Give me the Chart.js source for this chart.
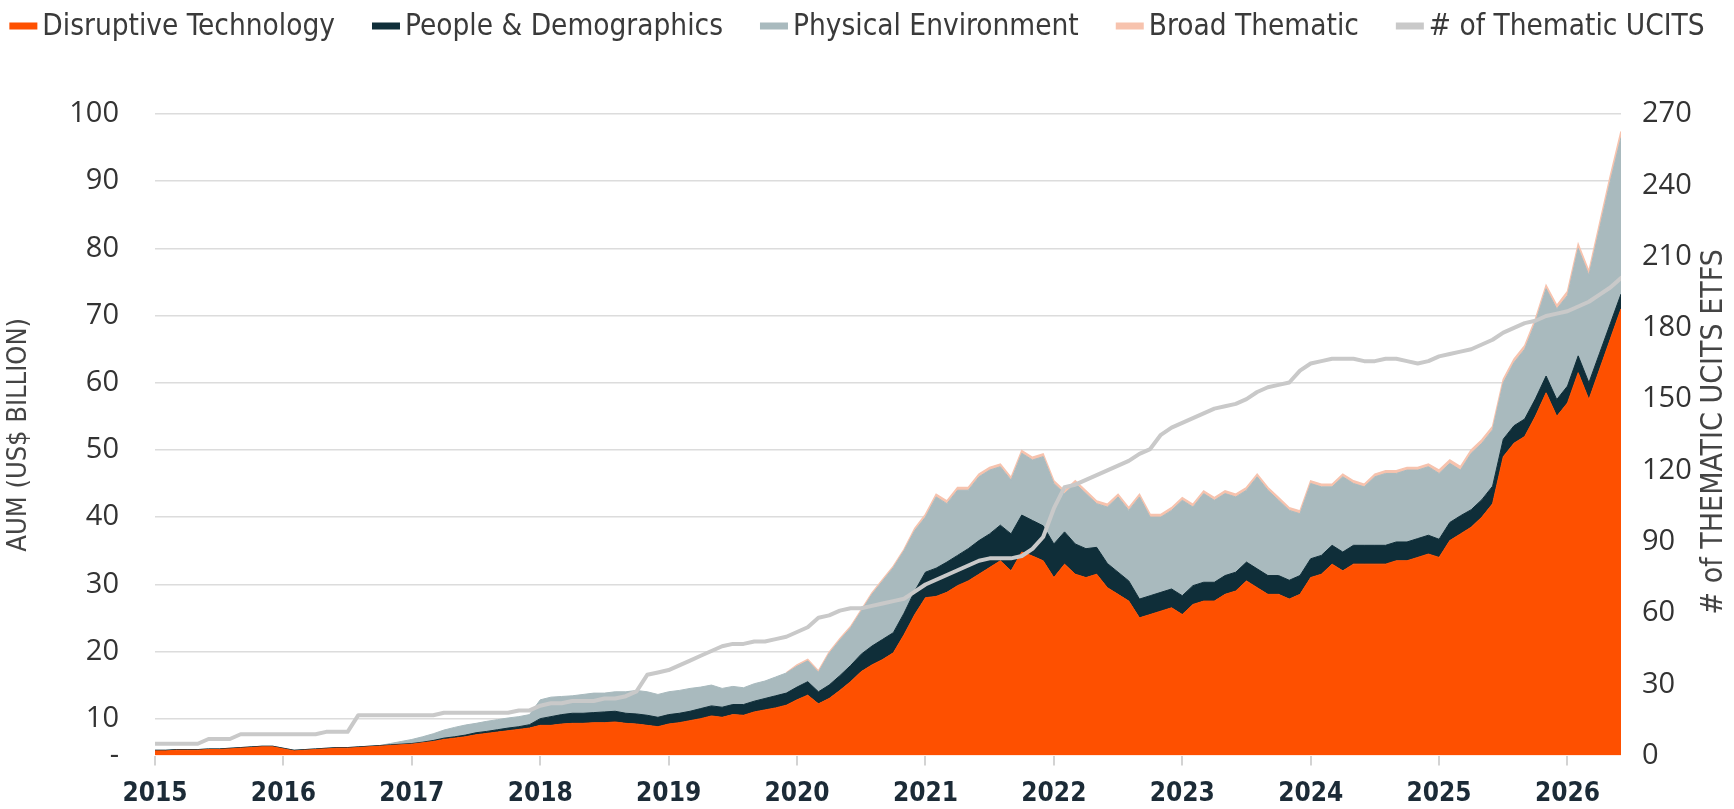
<!DOCTYPE html>
<html>
<head>
<meta charset="utf-8">
<script src="https://cdn.jsdelivr.net/npm/chart.js@4.4.1/dist/chart.umd.min.js"></script>
<style>
html,body{margin:0;padding:0;background:#ffffff;}
#wrap{width:1734px;height:809px;position:relative;}
canvas{display:block;}
</style>
</head>
<body>
<div id="wrap"><canvas id="c" width="1734" height="809"></canvas></div>
<script>
// ---------------- DATA ----------------
// Categories: monthly, Jan 2015 .. Jun 2026
const monthLabels = [];
for (let y = 2015; y <= 2026; y++) {
  for (let m = 1; m <= 12; m++) {
    if (y === 2026 && m > 6) break;
    monthLabels.push(y + '-' + String(m).padStart(2, '0'));
  }
}

// AUM, US$ billion (stacked)
const disruptiveTech = [
  5.2, 5.2, 5.3, 5.3, 5.3, 5.4, 5.4, 5.5, 5.6, 5.7, 5.8, 5.8,
  5.5, 5.2, 5.3, 5.4, 5.5, 5.6, 5.6, 5.7, 5.8, 5.9, 6.0, 6.1,
  6.2, 6.4, 6.6, 6.9, 7.1, 7.3, 7.6, 7.8, 8.0, 8.2, 8.4, 8.6,
  9.0, 9.0, 9.2, 9.3, 9.3, 9.4, 9.4, 9.5, 9.3, 9.2, 9.0, 8.8,
  9.2, 9.4, 9.7, 10.0, 10.4, 10.2, 10.6, 10.5, 11.0, 11.3, 11.6, 12.0,
  12.8, 13.5, 12.2, 13.0, 14.2, 15.5, 17.0, 18.0, 18.8, 19.8, 22.5, 25.5,
  28.0, 28.2, 28.8, 29.8, 30.5, 31.5, 32.5, 33.5, 32.0, 34.8, 34.2, 33.5,
  31.0, 33.0, 31.5, 31.0, 31.5, 29.5, 28.5, 27.5, 25.0, 25.5, 26.0, 26.5,
  25.5, 27.0, 27.5, 27.5, 28.5, 29.0, 30.5, 29.5, 28.5, 28.5, 27.8, 28.5,
  31.0, 31.5, 33.0, 32.0, 33.0, 33.0, 33.0, 33.0, 33.5, 33.5, 34.0, 34.5,
  34.0, 36.5, 37.5, 38.5, 40.0, 42.0, 49.0, 51.0, 52.0, 55.0, 58.5, 55.0,
  57.0, 61.5, 57.5, 62.0, 66.5, 71.0
];
const peopleDemographics = [
  0.1, 0.1, 0.1, 0.1, 0.1, 0.1, 0.1, 0.1, 0.1, 0.1, 0.1, 0.1,
  0.1, 0.1, 0.1, 0.1, 0.1, 0.1, 0.1, 0.1, 0.1, 0.1, 0.1, 0.1,
  0.1, 0.1, 0.15, 0.2, 0.2, 0.25, 0.3, 0.3, 0.35, 0.4, 0.4, 0.5,
  1.0, 1.3, 1.4, 1.5, 1.5, 1.5, 1.6, 1.6, 1.5, 1.5, 1.5, 1.4,
  1.4, 1.4, 1.4, 1.5, 1.5, 1.5, 1.5, 1.6, 1.6, 1.7, 1.8, 1.8,
  1.9, 2.0, 1.8, 2.0, 2.2, 2.4, 2.6, 2.8, 3.0, 3.0, 3.2, 3.5,
  3.8, 4.2, 4.5, 4.5, 4.8, 5.0, 5.0, 5.3, 5.5, 5.5, 5.3, 5.2,
  5.0, 4.8, 4.5, 4.3, 4.0, 3.6, 3.3, 3.0, 2.8, 2.8, 2.8, 2.8,
  2.8, 2.8, 2.8, 2.8, 2.8, 2.8, 2.8, 2.8, 2.8, 2.8, 2.8, 2.8,
  2.8, 2.8, 2.8, 2.8, 2.8, 2.8, 2.8, 2.8, 2.8, 2.8, 2.8, 2.8,
  2.7, 2.7, 2.7, 2.6, 2.6, 2.6, 2.6, 2.6, 2.6, 2.6, 2.5, 2.5,
  2.5, 2.5, 2.5, 2.4, 2.3, 2.2
];
const physicalEnvironment = [
  0, 0, 0, 0, 0, 0, 0, 0, 0, 0, 0, 0,
  0, 0, 0, 0, 0, 0, 0, 0, 0, 0, 0.2, 0.4,
  0.6, 0.8, 1.0, 1.2, 1.4, 1.5, 1.4, 1.5, 1.5, 1.5, 1.5, 1.5,
  2.8, 2.9, 2.7, 2.6, 2.8, 2.9, 2.8, 2.9, 3.2, 3.5, 3.5, 3.4,
  3.4, 3.4, 3.4, 3.2, 3.1, 2.8, 2.7, 2.5, 2.6, 2.6, 2.8, 3.0,
  3.1, 3.1, 2.9, 4.7, 5.3, 5.6, 6.4, 7.7, 8.7, 9.7, 9.3, 9.0,
  8.2, 10.6, 8.7, 9.7, 8.7, 9.5, 9.5, 8.7, 8.0, 9.2, 9.0, 10.3,
  9.0, 5.7, 9.0, 8.2, 6.5, 8.4, 11.2, 10.5, 15.2, 11.7, 11.2, 11.7,
  14.2, 11.7, 13.2, 12.2, 12.2, 11.2, 10.7, 13.7, 12.7, 11.2, 10.4, 9.2,
  11.2, 10.2, 8.7, 11.2, 9.2, 8.7, 10.2, 10.7, 10.2, 10.7, 10.2, 10.2,
  9.8, 8.8, 6.8, 8.4, 8.4, 8.4, 8.4, 9.4, 10.4, 11.4, 13.0, 13.5,
  13.5, 16.0, 16.0, 18.6, 21.2, 23.3
];
const broadThematic = [
  0, 0, 0, 0, 0, 0, 0, 0, 0, 0, 0, 0,
  0, 0, 0, 0, 0, 0, 0, 0, 0, 0, 0, 0,
  0, 0, 0, 0, 0, 0, 0, 0, 0, 0, 0, 0,
  0, 0, 0, 0, 0, 0, 0, 0, 0, 0, 0, 0,
  0, 0, 0, 0, 0, 0, 0, 0, 0, 0, 0, 0,
  0.2, 0.2, 0.2, 0.2, 0.2, 0.2, 0.2, 0.2, 0.2, 0.2, 0.2, 0.3,
  0.4, 0.4, 0.4, 0.4, 0.4, 0.4, 0.4, 0.4, 0.4, 0.4, 0.4, 0.4,
  0.4, 0.4, 0.4, 0.4, 0.4, 0.4, 0.4, 0.4, 0.4, 0.4, 0.4, 0.4,
  0.4, 0.4, 0.4, 0.4, 0.4, 0.4, 0.4, 0.4, 0.4, 0.4, 0.4, 0.4,
  0.4, 0.4, 0.4, 0.4, 0.4, 0.4, 0.4, 0.4, 0.4, 0.4, 0.4, 0.4,
  0.5, 0.5, 0.5, 0.5, 0.5, 0.5, 0.5, 0.5, 0.5, 0.5, 0.5, 0.5,
  0.6, 0.6, 0.6, 0.7, 0.8, 0.9
];
// Number of thematic UCITS ETFs (right axis)
const ucitsCount = [
  5, 5, 5, 5, 5, 7, 7, 7, 9, 9, 9, 9,
  9, 9, 9, 9, 10, 10, 10, 17, 17, 17, 17, 17,
  17, 17, 17, 18, 18, 18, 18, 18, 18, 18, 19, 19,
  21, 22, 22, 23, 23, 23, 24, 24, 25, 27, 34, 35,
  36, 38, 40, 42, 44, 46, 47, 47, 48, 48, 49, 50,
  52, 54, 58, 59, 61, 62, 62, 63, 64, 65, 66, 69,
  72, 74, 76, 78, 80, 82, 83, 83, 83, 84, 87, 92,
  104, 113, 114, 116, 118, 120, 122, 124, 127, 129, 135, 138,
  140, 142, 144, 146, 147, 148, 150, 153, 155, 156, 157, 162,
  165, 166, 167, 167, 167, 166, 166, 167, 167, 166, 165, 166,
  168, 169, 170, 171, 173, 175, 178, 180, 182, 183, 185, 186,
  187, 189, 191, 194, 197, 201
];

// Tick labels
const yearTicks = [2015, 2016, 2017, 2018, 2019, 2020, 2021, 2022, 2023, 2024, 2025, 2026];
const aumTicks = [10, 20, 30, 40, 50, 60, 70, 80, 90, 100];
const countTicks = [0, 30, 60, 90, 120, 150, 180, 210, 240, 270];

// ---------------- STYLE ----------------
const COLORS = {
  tech: '#fe5000',
  people: '#0f2e39',
  physical: '#a9babe',
  broad: '#f7c3ae',
  count: '#c9c9c9'
};
const COND = '"DejaVu Sans Condensed", "DejaVu Sans", sans-serif';
const NUMF = '"Open Sans", "DejaVu Sans", sans-serif';

function monthToYear(lbl) {
  const [y, m] = lbl.split('-').map(Number);
  return y + (m - 1) / 12;
}
const toXY = arr => arr.map((v, i) => ({ x: monthToYear(monthLabels[i]), y: v }));

const legendItems = [
  { text: 'Disruptive Technology', color: COLORS.tech },
  { text: 'People & Demographics', color: COLORS.people },
  { text: 'Physical Environment', color: COLORS.physical },
  { text: 'Broad Thematic', color: COLORS.broad },
  { text: '# of Thematic UCITS', color: COLORS.count }
];

const decor = {
  id: 'decor',
  afterDraw(chart) {
    const ctx = chart.ctx;
    ctx.save();
    // legend
    ctx.font = '29.5px ' + COND;
    ctx.textBaseline = 'middle';
    ctx.textAlign = 'left';
    const sw = 28, sh = 7, gapIn = 5, gapOut = 37;
    const widths = legendItems.map(it => ctx.measureText(it.text).width);
    let total = 0;
    widths.forEach((w, i) => { total += sw + gapIn + w + (i < widths.length - 1 ? gapOut : 0); });
    let x = 857 - total / 2;
    const ly = 26;
    legendItems.forEach((it, i) => {
      ctx.fillStyle = it.color;
      ctx.fillRect(x, ly - sh / 2, sw, sh);
      ctx.fillStyle = '#3a3a3a';
      ctx.fillText(it.text, x + sw + gapIn, ly + 1);
      x += sw + gapIn + widths[i] + gapOut;
    });
    // right axis title (reads bottom to top)
    const ca = chart.chartArea;
    ctx.translate(chart.width - 20, (ca.top + ca.bottom) / 2 - 3);
    ctx.rotate(-Math.PI / 2);
    ctx.textAlign = 'center';
    ctx.fillStyle = '#444444';
    ctx.font = '30px ' + COND;
    ctx.fillText('# of THEMATIC UCITS ETFS', 0, 0);
    ctx.restore();
  }
};

const areaDs = (label, data, color, fill) => ({
  label, data: toXY(data), yAxisID: 'y', xAxisID: 'x',
  backgroundColor: color, borderColor: color, borderWidth: 1,
  pointRadius: 0, pointHoverRadius: 0, fill, tension: 0, order: 1, stack: 'aum'
});

const broadDs = areaDs('Broad Thematic', broadThematic, COLORS.broad, '-1');
broadDs.borderWidth = 1.5;
broadDs.segment = {
  borderColor: c => (broadThematic[c.p1DataIndex] > 0 ? COLORS.broad : 'rgba(0,0,0,0)')
};

new Chart(document.getElementById('c'), {
  type: 'line',
  data: {
    datasets: [
      areaDs('Disruptive Technology', disruptiveTech, COLORS.tech, 'origin'),
      areaDs('People & Demographics', peopleDemographics, COLORS.people, '-1'),
      areaDs('Physical Environment', physicalEnvironment, COLORS.physical, '-1'),
      broadDs,
      {
        label: '# of Thematic UCITS', data: toXY(ucitsCount), yAxisID: 'y2', xAxisID: 'x',
        borderColor: COLORS.count, backgroundColor: COLORS.count, borderWidth: 4,
        pointRadius: 0, pointHoverRadius: 0, fill: false, tension: 0, order: 0,
        borderJoinStyle: 'round', borderCapStyle: 'round'
      }
    ]
  },
  options: {
    responsive: false,
    animation: false,
    devicePixelRatio: 1,
    layout: { padding: { top: 114, left: 0, right: 0, bottom: 0 } },
    plugins: { legend: { display: false }, tooltip: { enabled: false } },
    scales: {
      x: {
        type: 'linear',
        min: monthToYear(monthLabels[0]),
        max: monthToYear(monthLabels[monthLabels.length - 1]),
        afterBuildTicks: s => { s.ticks = yearTicks.map(v => ({ value: v })); },
        afterFit: s => { s.height = 52; },
        ticks: {
          autoSkip: false, maxRotation: 0, padding: 13,
          callback: v => String(v),
          font: { family: COND, size: 26, weight: 'bold' },
          color: '#1c2b37'
        },
        grid: { drawOnChartArea: false, drawTicks: true, tickLength: 10, color: '#d3d3d3', lineWidth: 2 },
        border: { display: false }
      },
      y: {
        type: 'linear', position: 'left', stacked: true,
        min: 4.5, max: 100,
        afterBuildTicks: s => { s.ticks = [4.5].concat(aumTicks).map(v => ({ value: v })); },
        afterFit: s => { s.width = 155; },
        ticks: {
          padding: 36,
          callback: v => (v < 10 ? '-' : String(v)),
          font: { family: NUMF, size: 29 },
          color: '#333333'
        },
        grid: {
          drawTicks: false, lineWidth: 1.5,
          color: c => (c.tick && c.tick.value < 10) ? 'rgba(0,0,0,0)' : '#dcdcdc'
        },
        border: { display: false },
        title: {
          display: true, text: 'AUM (US$ BILLION)', color: '#444444',
          font: { family: COND, size: 27 }, padding: { top: 3, bottom: 0 }
        }
      },
      y2: {
        type: 'linear', position: 'right', min: 0, max: 270,
        afterBuildTicks: s => { s.ticks = countTicks.map(v => ({ value: v })); },
        afterFit: s => { s.width = 113; },
        ticks: { padding: 21, font: { family: NUMF, size: 29 }, color: '#333333' },
        grid: { drawOnChartArea: false, drawTicks: false },
        border: { display: false }
      }
    }
  },
  plugins: [decor]
});
</script>
</body>
</html>
